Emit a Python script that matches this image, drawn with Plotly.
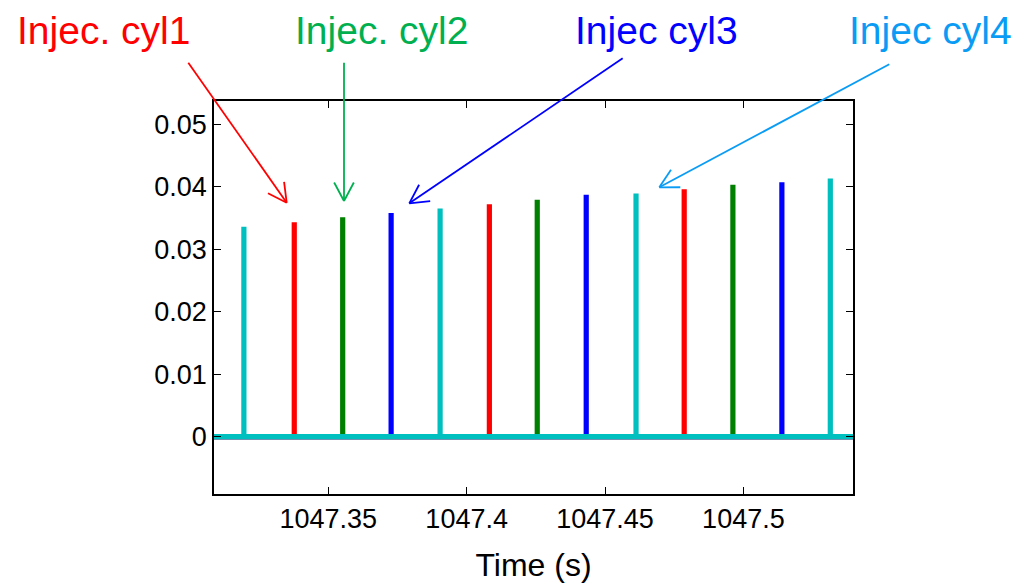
import math
import plotly.graph_objects as go

# Injection pulse times (s) and peak values for each cylinder
cyl1_t = [1047.3377, 1047.4082, 1047.4786]
cyl1_v = [0.0343, 0.0372, 0.0396]
cyl2_t = [1047.3552, 1047.4255, 1047.4962]
cyl2_v = [0.0351, 0.0379, 0.0403]
cyl3_t = [1047.3727, 1047.4432, 1047.5139]
cyl3_v = [0.0358, 0.0387, 0.0407]
cyl4_t = [1047.3195, 1047.3904, 1047.4612, 1047.5314]
cyl4_v = [0.0336, 0.0365, 0.0389, 0.0413]

t_start, t_end = 1047.30, 1047.55

x_range = [1047.3087, 1047.5396]
y_range = [-0.00917, 0.0537]
x_ticks = [1047.35, 1047.40, 1047.45, 1047.50]
x_ticklabels = ["1047.35", "1047.4", "1047.45", "1047.5"]
y_ticks = [0, 0.01, 0.02, 0.03, 0.04, 0.05]
y_ticklabels = ["0", "0.01", "0.02", "0.03", "0.04", "0.05"]

labels = ["Injec. cyl1", "Injec. cyl2", "Injec cyl3", "Injec cyl4"]
label_colors = ["#ff0000", "#00b050", "#0000ff", "#0a9cf5"]
spike_colors = ["#ff0000", "#008000", "#0000ff", "#00bfbf"]


def pulse_train(times, vals):
    xs, ys = [t_start], [0.0]
    for t, v in zip(times, vals):
        xs += [t, t, t]
        ys += [0.0, v, 0.0]
    xs.append(t_end)
    ys.append(0.0)
    return xs, ys


fig = go.Figure()
series = [(cyl1_t, cyl1_v), (cyl2_t, cyl2_v), (cyl3_t, cyl3_v), (cyl4_t, cyl4_v)]
for (t, v), c in zip(series, spike_colors):
    xs, ys = pulse_train(t, v)
    fig.add_trace(go.Scatter(x=xs, y=ys, mode="lines",
                             line=dict(color=c, width=5.2),
                             showlegend=False, hoverinfo="skip"))

# plot area in pixels
L, R, T, B = 214, 853, 101, 494
W, H = R - L, B - T


def px_to_paper(px, py):
    return (px - L) / W, (B - py) / H


# text labels
label_pos = [(103, 30), (381, 30), (656, 30), (930, 30)]
for txt, col, (px, py) in zip(labels, label_colors, label_pos):
    xp, yp = px_to_paper(px, py)
    fig.add_annotation(x=xp, y=yp, xref="paper", yref="paper", text=txt,
                       showarrow=False, xanchor="center", yanchor="middle",
                       font=dict(family="Liberation Sans, Arial", size=39, color=col))

# arrows: tip pixel, tail pixel (open V heads)
arrows = [((286.7, 202.7), (188.3, 62.7)),
          ((344.0, 201.0), (344.0, 62.7)),
          ((409.3, 203.3), (622.7, 58.3)),
          ((659.3, 187.3), (889.3, 64.3))]
head_len, head_ang = 21.0, math.radians(28)


def add_seg(p0, p1, col):
    x0, y0 = px_to_paper(*p0)
    x1, y1 = px_to_paper(*p1)
    fig.add_shape(type="line", xref="paper", yref="paper", x0=x0, y0=y0, x1=x1, y1=y1,
                  line=dict(color=col, width=1.8), layer="above")


for ((tx, ty), (sx, sy)), col in zip(arrows, label_colors):
    add_seg((sx, sy), (tx, ty), col)
    ang = math.atan2(sy - ty, sx - tx)
    for s in (-1, 1):
        a = ang + s * head_ang
        add_seg((tx, ty), (tx + head_len * math.cos(a), ty + head_len * math.sin(a)), col)

axis_common = dict(showgrid=False, zeroline=False, showline=True, linecolor="black",
                   linewidth=1.5, mirror="ticks", ticks="inside", ticklen=7,
                   tickcolor="black", tickwidth=1.2, automargin=False,
                   tickfont=dict(family="Liberation Sans, Arial", size=27, color="black"))

fig.update_xaxes(range=x_range, tickvals=x_ticks, ticktext=x_ticklabels,
                 title=dict(text="Time (s)", standoff=20,
                            font=dict(family="Liberation Sans, Arial", size=32, color="black")),
                 **axis_common)
fig.update_yaxes(range=y_range, tickvals=y_ticks, ticktext=y_ticklabels, **axis_common)

fig.update_layout(width=1020, height=586, plot_bgcolor="white", paper_bgcolor="white",
                  margin=dict(l=L, r=1020 - R, t=T, b=586 - B))

fig.write_html("out.html", config={"displayModeBar": False},
               post_script="document.body.style.margin='0';document.body.style.overflow='hidden';")
